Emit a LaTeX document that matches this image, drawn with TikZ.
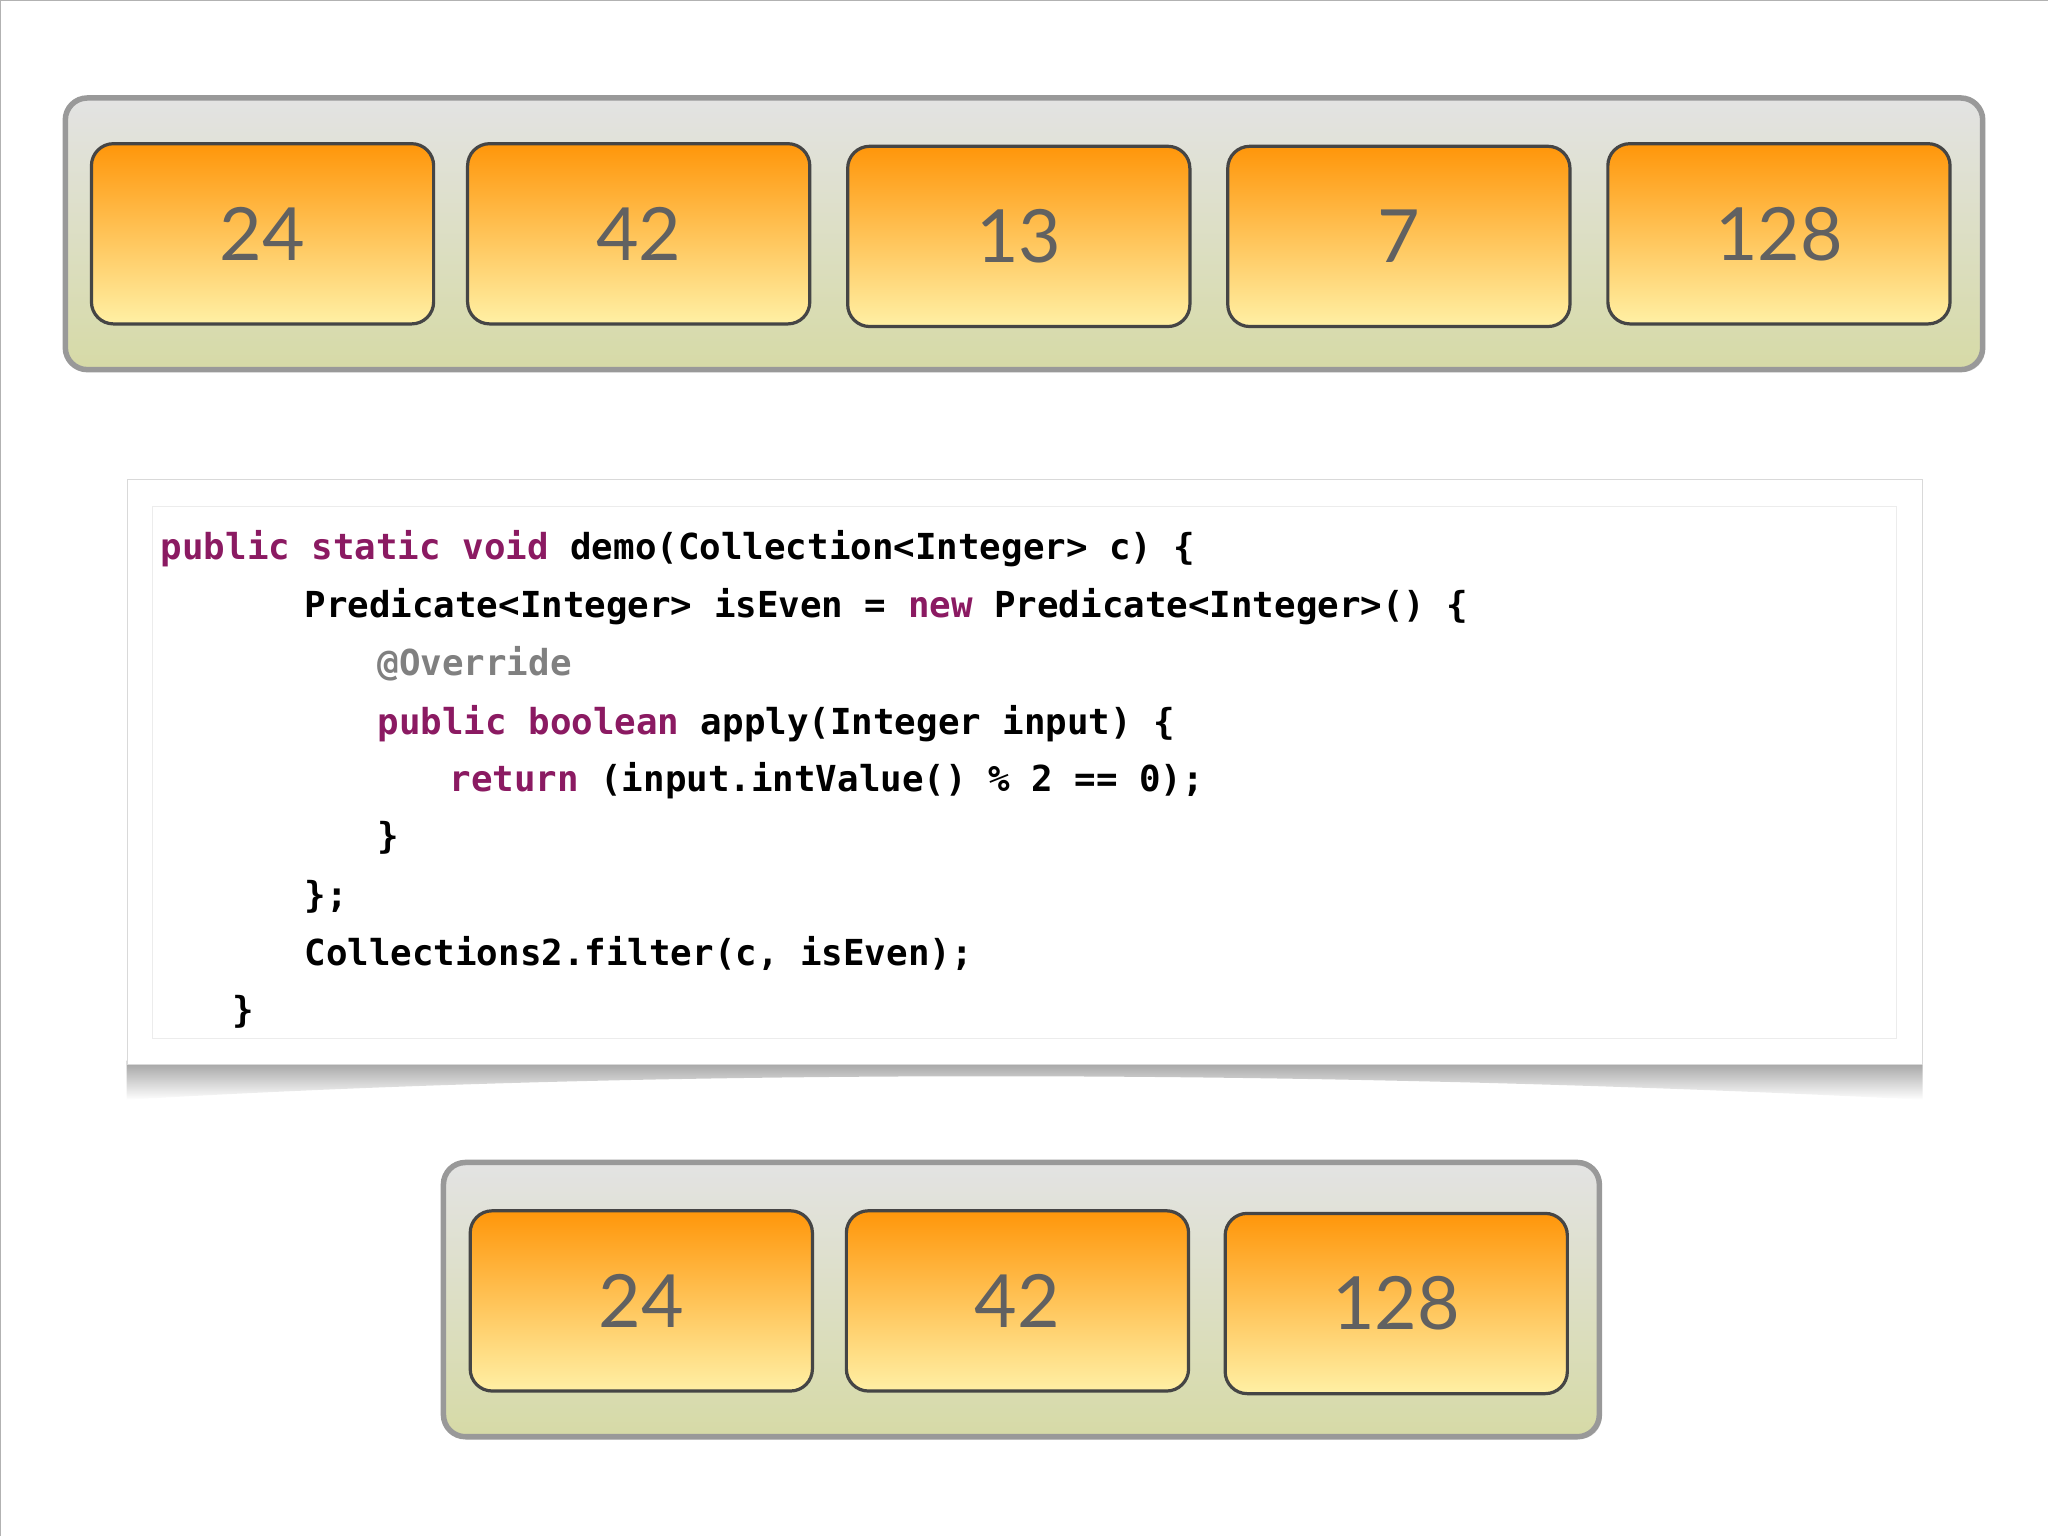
\documentclass[tikz,border=0pt]{standalone}
\usepackage{fontspec}
\setmainfont{Lato}
\setmonofont{DejaVu Sans Mono}
\usetikzlibrary{shadows}
\definecolor{kw}{HTML}{8B1A62}
\definecolor{numc}{HTML}{454545}
\tikzset{
 tray/.style={draw=gray!80, line width=6pt, rounded corners=24pt, top color=gray!22, bottom color={rgb,255:red,214;green,218;blue,166}, drop shadow={opacity=0.25}},
 numbox/.style={draw=numc, line width=3.5pt, rounded corners=24pt, top color={rgb,255:red,255;green,150;blue,10}, bottom color={rgb,255:red,255;green,240;blue,165}, minimum width=262*0.05cm, minimum height=138*0.05cm, font=\fontsize{80}{82}\selectfont\color{numc!85}, inner sep=0pt},
 codeline/.style={anchor=base west, inner sep=0pt, font=\ttfamily\bfseries\fontsize{39}{41}\selectfont},
}
\begin{document}
\begin{tikzpicture}[x=0.05cm,y=-0.05cm]
\useasboundingbox (0,0) rectangle (1568,1176);
\draw[gray!60, line width=1pt] (0,0) rectangle (1568,1176);
% top tray
\node[tray, minimum width=1468*0.05cm, minimum height=208*0.05cm] (toptray) at (784,179) {};
\node[numbox] (t1) at (201,179) {24};
\node[numbox] (t2) at (489,179) {42};
\node[numbox] (t3) at (780,181) {13};
\node[numbox] (t4) at (1071,181) {7};
\node[numbox] (t5) at (1362,179) {128};
% code box
\shade[top color=gray!75, bottom color=white] (97,812) -- (1472,812) -- (1472,842) .. controls (1000,818) and (500,818) .. (97,842) -- cycle;
\node[draw=gray!30, fill=white, minimum width=1375*0.05cm, minimum height=448*0.05cm, inner sep=0pt] (code) at (784.5,591) {};
\draw[gray!15, line width=1pt] (117,388) rectangle (1452,795);
\node[codeline] (l1) at (123,428) {\textcolor{kw}{public static void} demo(Collection<Integer> c) \{};
\node[codeline] (l2) at (233,473) {Predicate<Integer> isEven = \textcolor{kw}{new} Predicate<Integer>() \{};
\node[codeline] (l3) at (289,517) {\textcolor{gray}{@Override}};
\node[codeline] (l4) at (289,562) {\textcolor{kw}{public boolean} apply(Integer input) \{};
\node[codeline] (l5) at (344,606) {\textcolor{kw}{return} (input.intValue() \% 2 == 0);};
\node[codeline] (l6) at (289,650) {\}};
\node[codeline] (l7) at (233,695) {\};};
\node[codeline] (l8) at (233,739) {Collections2.filter(c, isEven);};
\node[codeline] (l9) at (178,783) {\}};
% bottom tray
\node[tray, minimum width=885*0.05cm, minimum height=210*0.05cm] (bottray) at (782,995) {};
\node[numbox] (b1) at (491,996) {24};
\node[numbox] (b2) at (779,996) {42};
\node[numbox] (b3) at (1069,998) {128};
\end{tikzpicture}
\end{document}
